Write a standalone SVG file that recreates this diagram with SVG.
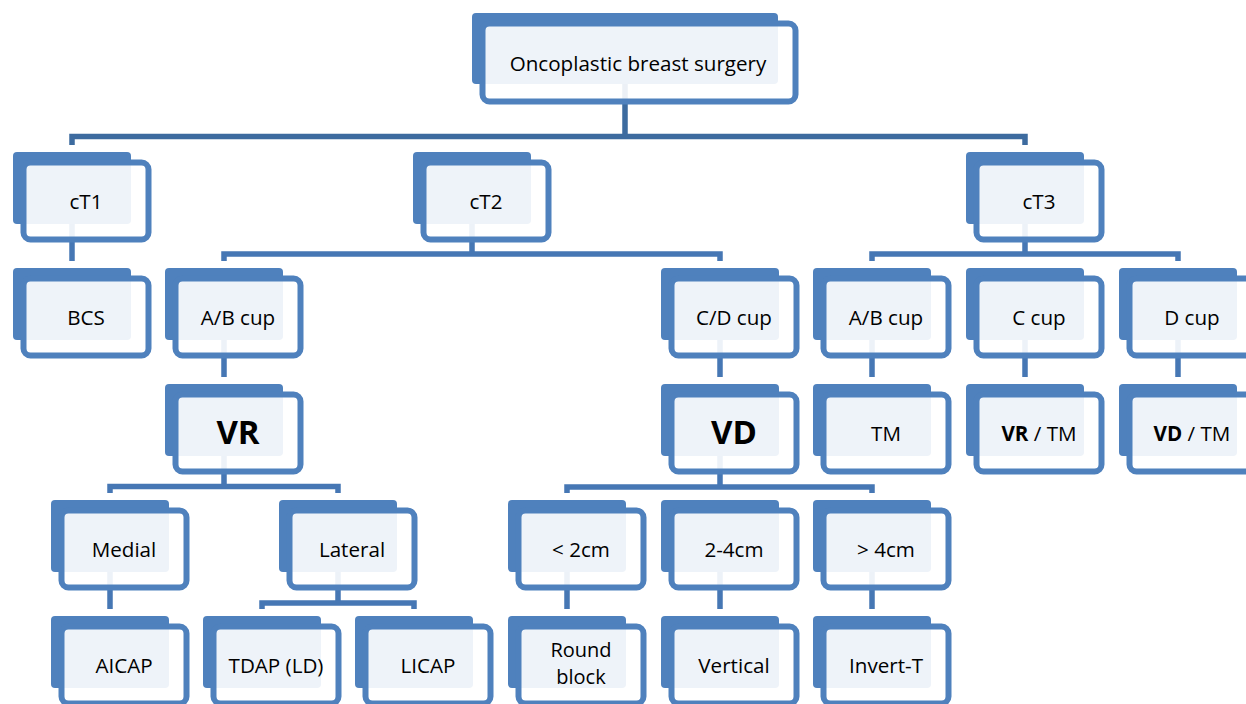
<svg xmlns="http://www.w3.org/2000/svg" width="1246" height="704" viewBox="0 0 1246 704">
<style>
.bk{fill:#4f81bd}
.fr{fill:#fff;fill-opacity:0.9;stroke:#4f81bd;stroke-width:6}
.t{font-family:"Open Sans","Noto Sans",sans-serif;font-size:20.6px;text-anchor:middle;fill:#000}
.s{font-size:20px}
.b{font-weight:bold}
.big{font-family:"Open Sans","Noto Sans",sans-serif;font-size:33px;font-weight:bold;text-anchor:middle;fill:#000}
.c{fill:none;stroke:#4677b4;stroke-width:5.5}
.c0{fill:none;stroke:#3d6b9f;stroke-width:5.5}
</style>
<defs>
<g id="box">
<rect class="bk" x="0" y="0" width="118" height="72" rx="4"/>
<rect class="fr" x="10.5" y="10.5" width="125" height="77" rx="7"/>
</g>
</defs>
<rect width="1246" height="704" fill="#fff"/>
<g id="connectors">
<path class="c0" d="M625 50V136.5M72 145V136.5H1025V145"/>
<path class="c" d="M72 190V261"/>
<path class="c" d="M472 190V254M224 261V254H720V261"/>
<path class="c" d="M1025 190V254M872 261V254H1178V261"/>
<path class="c" d="M224 306V377M720 306V377M872 306V377M1025 306V377M1178 306V377"/>
<path class="c" d="M224 420V486.5M110 493V486.5H338V493"/>
<path class="c" d="M720 420V487M567 493V487H872V493"/>
<path class="c" d="M110 540V609M567 540V609M720 540V609M872 540V609"/>
<path class="c" d="M338 540V603M262 609V603H414V609"/>
</g>
<g id="n-root">
<rect class="bk" x="472" y="13" width="306" height="71" rx="4"/>
<rect class="fr" x="482.5" y="23.5" width="313" height="78" rx="7"/>
<text class="t" x="638" y="70.5">Oncoplastic breast surgery</text>
</g>
<g id="n-ct1"><use href="#box" x="13" y="152"/><text class="t" x="86" y="209">cT1</text></g>
<g id="n-ct2"><use href="#box" x="413" y="152"/><text class="t" x="486" y="209">cT2</text></g>
<g id="n-ct3"><use href="#box" x="966" y="152"/><text class="t" x="1039" y="209">cT3</text></g>
<g id="n-bcs"><use href="#box" x="13" y="268"/><text class="t" x="86" y="325">BCS</text></g>
<g id="n-ab2"><use href="#box" x="165" y="268"/><text class="t" x="238" y="325">A/B cup</text></g>
<g id="n-cd2"><use href="#box" x="661" y="268"/><text class="t" x="734" y="325">C/D cup</text></g>
<g id="n-ab3"><use href="#box" x="813" y="268"/><text class="t" x="886" y="325">A/B cup</text></g>
<g id="n-c3"><use href="#box" x="966" y="268"/><text class="t" x="1039" y="325">C cup</text></g>
<g id="n-d3"><use href="#box" x="1119" y="268"/><text class="t" x="1192" y="325">D cup</text></g>
<g id="n-vr"><use href="#box" x="165" y="384"/><text class="big" x="238" y="444">VR</text></g>
<g id="n-vd"><use href="#box" x="661" y="384"/><text class="big" x="734" y="444">VD</text></g>
<g id="n-tm"><use href="#box" x="813" y="384"/><text class="t" x="886" y="441">TM</text></g>
<g id="n-vrtm"><use href="#box" x="966" y="384"/><text class="t" x="1039" y="441"><tspan class="b">VR</tspan> / TM</text></g>
<g id="n-vdtm"><use href="#box" x="1119" y="384"/><text class="t" x="1192" y="441"><tspan class="b">VD</tspan> / TM</text></g>
<g id="n-medial"><use href="#box" x="51" y="500"/><text class="t" x="124" y="557">Medial</text></g>
<g id="n-lateral"><use href="#box" x="279" y="500"/><text class="t" x="352" y="557">Lateral</text></g>
<g id="n-lt2"><use href="#box" x="508" y="500"/><text class="t" x="581" y="557">&lt; 2cm</text></g>
<g id="n-24"><use href="#box" x="661" y="500"/><text class="t" x="734" y="557">2-4cm</text></g>
<g id="n-gt4"><use href="#box" x="813" y="500"/><text class="t" x="886" y="557">&gt; 4cm</text></g>
<g id="n-aicap"><use href="#box" x="51" y="616"/><text class="t" x="124" y="673">AICAP</text></g>
<g id="n-tdap"><use href="#box" x="203" y="616"/><text class="t" x="276" y="673">TDAP (LD)</text></g>
<g id="n-licap"><use href="#box" x="355" y="616"/><text class="t" x="428" y="673">LICAP</text></g>
<g id="n-round"><use href="#box" x="508" y="616"/><text class="t s" x="581" y="657">Round</text><text class="t s" x="581" y="684">block</text></g>
<g id="n-vertical"><use href="#box" x="661" y="616"/><text class="t" x="734" y="673">Vertical</text></g>
<g id="n-invert"><use href="#box" x="813" y="616"/><text class="t" x="886" y="673">Invert-T</text></g>
</svg>
